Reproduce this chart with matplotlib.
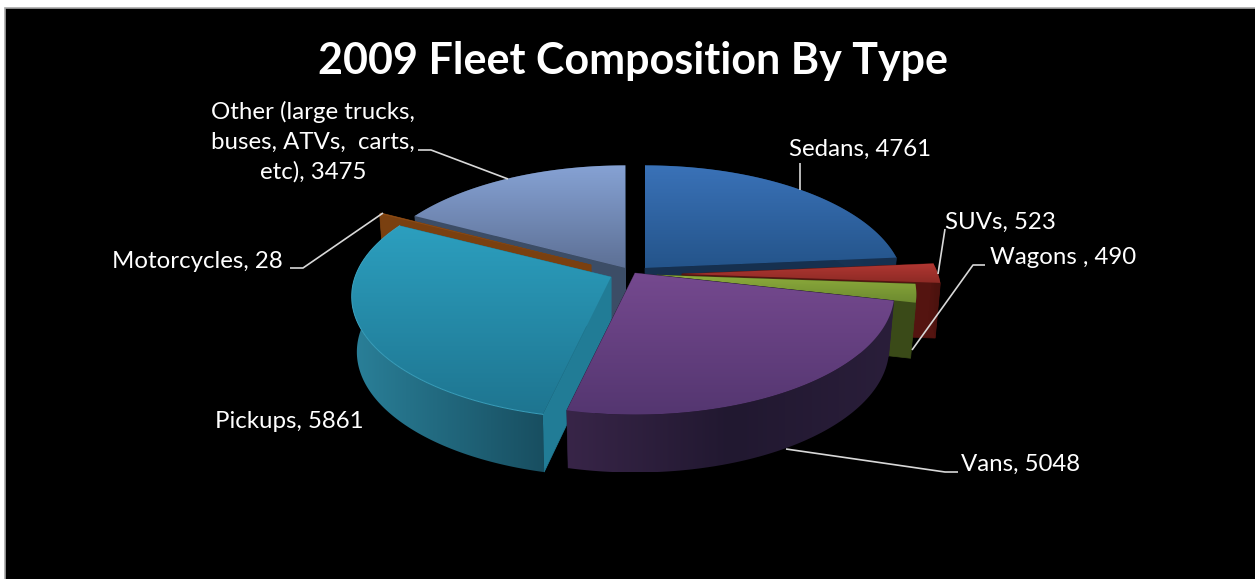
import numpy as np
import matplotlib
matplotlib.use('Agg')
import matplotlib.pyplot as plt
from matplotlib.colors import LinearSegmentedColormap
from matplotlib.patches import Polygon, Rectangle

names = ['Sedans', 'SUVs', 'Wagons ', 'Vans', 'Pickups', 'Motorcycles',
         'Other (large trucks,\nbuses, ATVs,  carts,\netc)']
values = [4761, 523, 490, 5048, 5861, 28, 3475]

# top face gradient (upper, lower), cut face colour, wall colours left to right
top_colors = [('#3a72b8', '#24548a'), ('#b23732', '#8c2a25'), ('#8dab3c', '#6c8a2f'),
              ('#75498f', '#543670'), ('#2c9fbf', '#1e7590'), ('#8f4c14', '#8f4c14'),
              ('#86a2d4', '#5d7095')]
face_colors = ['#16304f', '#541410', '#3a4a18', '#2c1e3c', '#217c96', '#7a4010', '#3c4d66']
wall_colors = [('#1d3f66', '#16304f'), ('#541410', '#4a120e'), ('#3a4a18', '#3a4a18'),
               ('#382548', '#211830', '#2a1e3a'), ('#2a8099', '#184e60'), ('#7a4010', '#7a4010'),
               ('#3c4d66', '#3c4d66')]

# where each slice's point sits after being pulled out of the pie
apexes = [(645, 268), (682, 274), (657, 275), (635, 273), (611, 277), (591, 265), (625, 268)]
draw_order = [6, 0, 5, 1, 2, 4, 3]

RX, RY, PERSP = 256, 119, 0.16
DEPTH = 55

# label anchor, alignment
label_pos = [(789, 149, 'left'), (945, 222, 'left'), (990, 257, 'left'), (961, 464, 'left'),
             (215, 421, 'left'), (112, 262, 'left'), (313, 142, 'center')]
leaders = [[(800, 163), (800, 190)],
           [(945, 229), (938, 274)],
           [(985, 265), (973, 265), (912, 350)],
           [(958, 472), (945, 472), (786, 449)],
           [],
           [(290, 268), (303, 268), (383, 213)],
           [(418, 150), (431, 150), (508, 179)]]

FONT = 'Lato'


def top_xy(theta, apex):
    den = 1 + PERSP * np.cos(theta)
    return (apex[0] + RX * np.sin(theta) / den,
            apex[1] - RY * np.cos(theta) / den)


def lower(x, y, apex):
    # the underside of the pie, a little narrower and further down
    return (apex[0] + 0.98 * (np.asarray(x) - apex[0]),
            apex[1] + DEPTH + 1.02 * (np.asarray(y) - apex[1]))


def gradient_fill(ax, xs, ys, colors, z, horizontal=False):
    poly = Polygon(np.column_stack([xs, ys]), closed=True, facecolor='none',
                   edgecolor='none', zorder=z)
    ax.add_patch(poly)
    cmap = LinearSegmentedColormap.from_list('g', list(colors))
    grad = np.linspace(0, 1, 256).reshape(-1, 1)
    if horizontal:
        grad = grad.T
    im = ax.imshow(grad, cmap=cmap, aspect='auto', zorder=z, interpolation='bilinear',
                   extent=(min(xs), max(xs), max(ys), min(ys)))
    im.set_clip_path(poly)


fig = plt.figure(figsize=(12.55, 5.79), dpi=100, facecolor='white')
ax = fig.add_axes([0, 0, 1, 1])
ax.axis('off')

ax.add_patch(Rectangle((5, 8), 1260, 581, facecolor='black', edgecolor='#a8a8a8', lw=1.2, zorder=0))

total = sum(values)
edges = np.radians(np.concatenate([[0], np.cumsum(values) / total * 360]))

z = 1
for i in draw_order:
    t0, t1 = edges[i], edges[i + 1]
    apex = apexes[i]
    theta = np.linspace(t0, t1, max(3, int(np.degrees(t1 - t0) * 2)))
    xs, ys = top_xy(theta, apex)
    bx, by = lower(xs, ys, apex)
    ax_l, ay_l = lower(apex[0], apex[1], apex)

    # cut faces along both straight edges
    for j in (0, -1):
        ax.add_patch(Polygon([apex, (xs[j], ys[j]), (bx[j], by[j]), (ax_l, ay_l)],
                             closed=True, facecolor=face_colors[i],
                             edgecolor=face_colors[i], lw=0.5, zorder=z))
    z += 1

    # outer wall
    wx = np.concatenate([xs, bx[::-1]])
    wy = np.concatenate([ys, by[::-1]])
    gradient_fill(ax, wx, wy, wall_colors[i], z, horizontal=True)
    z += 1

    px = np.concatenate([[apex[0]], xs])
    py = np.concatenate([[apex[1]], ys])
    gradient_fill(ax, px, py, top_colors[i], z)
    z += 1
    if names[i] == 'Pickups':
        # lit rim on the front edge
        ax.plot(xs, ys, color='#3aa0bd', lw=0.7, zorder=z)
        z += 1

for i, pts in enumerate(leaders):
    if pts:
        ax.plot(*zip(*pts), color='#d8d8d8', lw=1.2, zorder=z, solid_capstyle='butt')
    x, y, ha = label_pos[i]
    ax.text(x, y, f'{names[i]}, {values[i]}', color='white', fontsize=17.3, family=FONT,
            ha=ha, va='center', multialignment='center', linespacing=1.5, zorder=z + 1)

ax.text(633, 61, '2009 Fleet Composition By Type', color='white', fontsize=31,
        fontweight='bold', family=FONT, ha='center', va='center', zorder=z + 1)

ax.set_xlim(0, 1255)
ax.set_ylim(579, 0)
fig.savefig('out.png', dpi=100)
